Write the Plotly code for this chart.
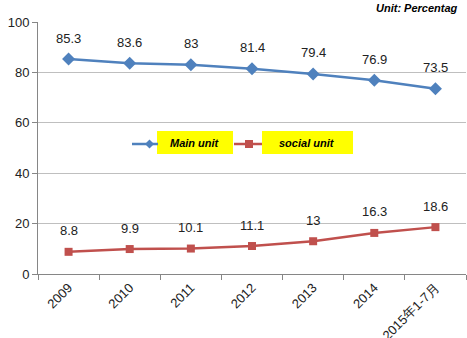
import plotly.graph_objects as go

categories = ["2009", "2010", "2011", "2012", "2013", "2014", "2015年1-7月"]
main_unit = [85.3, 83.6, 83, 81.4, 79.4, 76.9, 73.5]
social_unit = [8.8, 9.9, 10.1, 11.1, 13, 16.3, 18.6]
y_ticks = [0, 20, 40, 60, 80, 100]

BLUE = "#4F81BD"
RED = "#C0504D"
LABEL_FONT = dict(family="Liberation Sans, Arial, sans-serif", size=13, color="#222222")

fig = go.Figure()
fig.add_trace(go.Scatter(
    x=categories, y=main_unit, mode="lines+markers", name="Main unit",
    line=dict(color=BLUE, width=2.5),
    marker=dict(symbol="diamond", size=10, color=BLUE),
))
fig.add_trace(go.Scatter(
    x=categories, y=social_unit, mode="lines+markers", name="social unit",
    line=dict(color=RED, width=2.5),
    marker=dict(symbol="square", size=8, color=RED),
))

# value labels above each point (category index positions)
annotations = []
for series in (main_unit, social_unit):
    for i, v in enumerate(series):
        annotations.append(dict(
            x=i, y=v, xref="x", yref="y", text=f"{v:g}", showarrow=False,
            yshift=21, font=LABEL_FONT,
        ))

W, H = 467, 338
L, R, T, B = 38, 1, 22, 64
pw, ph = W - L - R, H - T - B


def px(x):
    return (x - L) / pw


def py(y):
    return (H - B - y) / ph


# unit note, top right
annotations.append(dict(
    x=px(374), y=py(8), xref="paper", yref="paper", text="<b><i>Unit: Percentag</i></b>",
    showarrow=False, xanchor="left", yanchor="middle",
    font=dict(family="Liberation Sans, Arial, sans-serif", size=11, color="#000000"),
))

fig.update_layout(
    width=W, height=H,
    margin=dict(l=L, r=R, t=T, b=B),
    paper_bgcolor="white", plot_bgcolor="white",
    showlegend=False,
    xaxis=dict(
        type="category", tickson="boundaries", ticks="outside", ticklen=5,
        tickcolor="#868686", showline=True, linecolor="#868686", linewidth=1,
        showgrid=False, tickangle=-45, tickfont=LABEL_FONT,
        range=[-0.5, 6.5], automargin=False,
    ),
    yaxis=dict(
        range=[0, 100], tickvals=y_ticks, ticks="outside", ticklen=5,
        tickcolor="#868686", showline=True, linecolor="#868686", linewidth=1,
        showgrid=True, gridcolor="#BFBFBF", gridwidth=1, zeroline=False,
        tickfont=LABEL_FONT, automargin=False,
    ),
)

# hand-drawn legend with yellow label boxes
legend_font = dict(family="Liberation Sans, Arial, sans-serif", size=11, color="#000000")
shapes = [
    dict(type="rect", xref="paper", yref="paper", x0=px(157), x1=px(233), y0=py(154), y1=py(131),
         fillcolor="#FFFF00", line=dict(width=0), layer="above"),
    dict(type="rect", xref="paper", yref="paper", x0=px(262), x1=px(353), y0=py(154), y1=py(131),
         fillcolor="#FFFF00", line=dict(width=0), layer="above"),
    dict(type="line", xref="paper", yref="paper", x0=px(132), x1=px(158), y0=py(144), y1=py(144),
         line=dict(color=BLUE, width=2.5), layer="above"),
    dict(type="path", xref="paper", yref="paper",
         path=f"M {px(145)},{py(144)} L {px(149.5)},{py(139.5)} L {px(154)},{py(144)} L {px(149.5)},{py(148.5)} Z",
         fillcolor=BLUE, line=dict(width=0), layer="above"),
    dict(type="line", xref="paper", yref="paper", x0=px(234), x1=px(262), y0=py(144), y1=py(144),
         line=dict(color=RED, width=2.5), layer="above"),
    dict(type="rect", xref="paper", yref="paper", x0=px(245), x1=px(253), y0=py(148), y1=py(140),
         fillcolor=RED, line=dict(width=0), layer="above"),
]
annotations.append(dict(x=px(195), y=py(143), xref="paper", yref="paper", text="<b><i>Main unit</i></b>",
                        showarrow=False, font=legend_font))
annotations.append(dict(x=px(307), y=py(143), xref="paper", yref="paper", text="<b><i>social unit</i></b>",
                        showarrow=False, font=legend_font))

fig.update_layout(shapes=shapes, annotations=annotations)
fig.write_html("out.html")
